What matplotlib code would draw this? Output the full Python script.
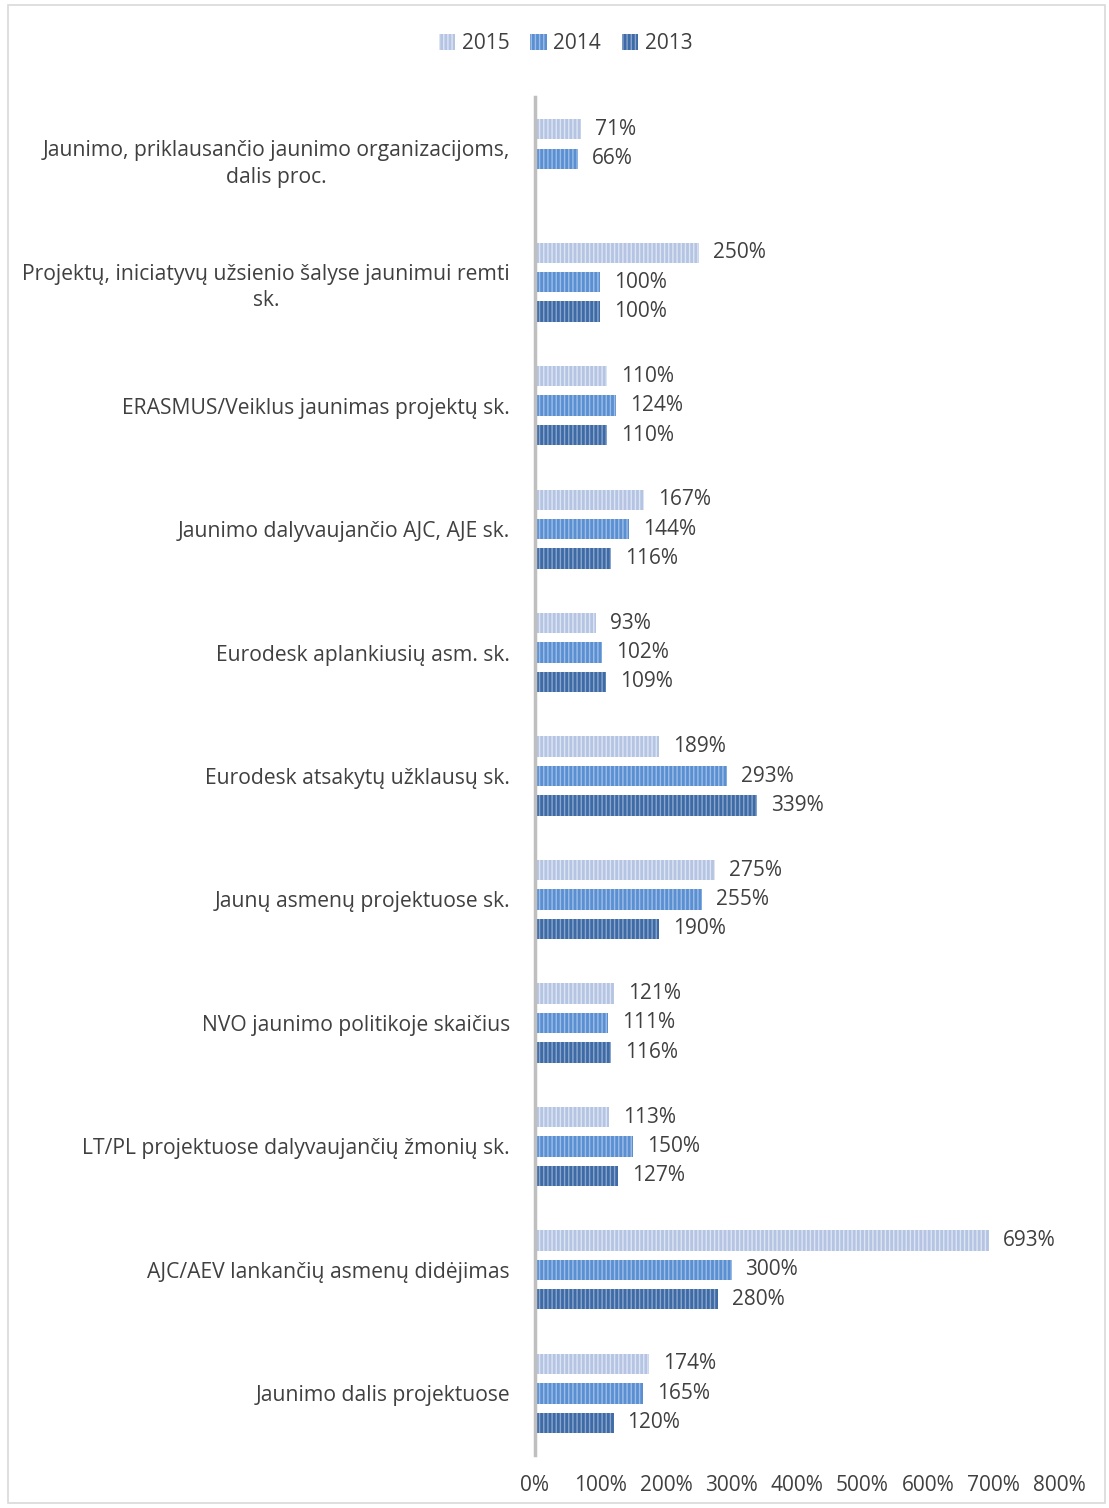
import numpy as np
import matplotlib.pyplot as plt
from matplotlib.patches import Rectangle
from matplotlib.ticker import FuncFormatter

plt.rcParams['font.family'] = ['Open Sans', 'DejaVu Sans']
plt.rcParams['hatch.linewidth'] = 1.0

categories = [
    "Jaunimo, priklausančio jaunimo organizacijoms,\ndalis proc.",
    "Projektų, iniciatyvų užsienio šalyse jaunimui remti\nsk.",
    "ERASMUS/Veiklus jaunimas projektų sk.",
    "Jaunimo dalyvaujančio AJC, AJE sk.",
    "Eurodesk aplankiusių asm. sk.",
    "Eurodesk atsakytų užklausų sk.",
    "Jaunų asmenų projektuose sk.",
    "NVO jaunimo politikoje skaičius",
    "LT/PL projektuose dalyvaujančių žmonių sk.",
    "AJC/AEV lankančių asmenų didėjimas",
    "Jaunimo dalis projektuose",
]
v2015 = [71, 250, 110, 167, 93, 189, 275, 121, 113, 693, 174]
v2014 = [66, 100, 124, 144, 102, 293, 255, 111, 150, 300, 165]
v2013 = [None, 100, 110, 116, 109, 339, 190, 116, 127, 280, 120]

series = [
    ("2015", v2015, "#b4c4e2", "#dde5f3", -0.238),
    ("2014", v2014, "#5a8fd2", "#9dbde6", 0.0),
    ("2013", v2013, "#3e6aa6", "#8aa6cc", 0.238),
]

text_col = "#404040"
fig = plt.figure(figsize=(11.09, 15.08), dpi=100)
ax = fig.add_axes([0.4824, 0.0351, 0.4726, 0.9006])

y = np.arange(len(categories))
for name, vals, fc, hc, off in series:
    for i, v in enumerate(vals):
        if v is None:
            continue
        ax.barh(y[i] + off, v, height=0.165, color=fc, edgecolor=hc,
                hatch="||||", linewidth=0)
        ax.annotate(f"{v}%", (v, y[i] + off), xytext=(10, 0),
                    textcoords="offset points", va="center", ha="left",
                    fontsize=15, color=text_col)
    # legend proxy
    ax.bar(0, 0, color=fc, edgecolor=hc, hatch="||||", linewidth=0, label=name)

ax.set_xlim(0, 800)
ax.set_ylim(10.5, -0.5)
ax.set_xticks(np.arange(0, 801, 100))
ax.xaxis.set_major_formatter(FuncFormatter(lambda x, p: f"{int(x)}%"))
ax.set_yticks(y)
ax.set_yticklabels(categories)
for lbl in ax.get_yticklabels():
    lbl.set_multialignment("center")
    lbl.set_linespacing(1.35)
ax.tick_params(axis="y", length=0, pad=18, labelsize=15.2, labelcolor=text_col)
ax.tick_params(axis="x", length=0, pad=14, labelsize=15, labelcolor=text_col)

for s in ["top", "right", "bottom"]:
    ax.spines[s].set_visible(False)
ax.spines["left"].set_color("#bfbfbf")
ax.spines["left"].set_linewidth(2.5)

leg = fig.legend(loc="center", bbox_to_anchor=(0.51, 0.971), ncol=3,
                 frameon=False, fontsize=15, handlelength=0.8, handleheight=0.8,
                 handletextpad=0.3, columnspacing=1.0, labelcolor=text_col)

fig.patches.append(Rectangle((0.007, 0.003), 0.989, 0.994, transform=fig.transFigure,
                             fill=False, edgecolor="#d9d9d9", linewidth=1.2))

fig.savefig("out.png", dpi=100)
